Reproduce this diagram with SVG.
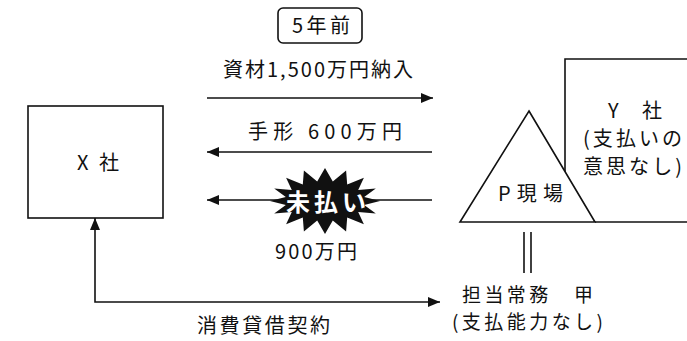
<svg xmlns="http://www.w3.org/2000/svg" width="687" height="341" viewBox="0 0 687 341">
<defs>
<style>
.t{font-family:"Noto Sans CJK JP","Noto Sans",sans-serif;font-size:20px;fill:#111;}
.s{font-size:19px;}
.ln{stroke:#111;stroke-width:1.6;fill:none;}
.box{stroke:#111;stroke-width:1.6;fill:#fff;}
</style>
<marker id="ah" viewBox="0 0 12 10" refX="12" refY="5" markerWidth="12" markerHeight="10" markerUnits="userSpaceOnUse" orient="auto-start-reverse">
<path d="M0,0 L12,5 L0,10 Z" fill="#111"/>
</marker>
</defs>
<rect width="687" height="341" fill="#fff"/>

<g id="title">
<rect x="278" y="8" width="84" height="35" rx="5" class="box"/>
<text class="t" x="292" y="33" textLength="58" lengthAdjust="spacing">5年前</text>
</g>

<g id="connectors">
<line class="ln" x1="207" y1="98" x2="433" y2="98" marker-end="url(#ah)"/>
<line class="ln" x1="432" y1="152" x2="207" y2="152" marker-end="url(#ah)"/>
<line class="ln" x1="432" y1="200" x2="207" y2="200" marker-end="url(#ah)"/>
<path class="ln" d="M95,218 L95,302 L440,302" marker-start="url(#ah)" marker-end="url(#ah)"/>
<line class="ln" x1="524" y1="232" x2="524" y2="273" stroke-width="1.2"/>
<line class="ln" x1="531" y1="232" x2="531" y2="273" stroke-width="1.2"/>
</g>

<g id="labels">
<text class="t" x="223" y="77" textLength="190" lengthAdjust="spacing">資材1,500万円納入</text>
<text class="t" x="248" y="139" textLength="154" lengthAdjust="spacing">手形 600万円</text>
<text class="t" x="275" y="259" textLength="82" lengthAdjust="spacing">900万円</text>
<text class="t" x="197" y="333" textLength="133" lengthAdjust="spacing">消費貸借契約</text>
</g>

<g id="unpaid">
<polygon fill="#111" points="380,201 364.2,204.9 375.8,213.6 358.2,212.1 363.9,224.3 347.2,217.6 346.1,231.5 332.8,220.6 325,234 317.2,220.6 303.9,231.5 302.8,217.6 286.1,224.3 291.8,212.1 274.2,213.6 285.8,204.9 270,201 285.8,197.1 274.2,188.4 291.8,189.9 286.1,177.7 302.8,184.4 303.9,170.5 317.2,181.4 325,168 332.8,181.4 346.1,170.5 347.2,184.4 363.9,177.7 358.2,189.9 375.8,188.4 364.2,197.1"/>
<text x="286" y="211" textLength="80" lengthAdjust="spacing" style="font-family:'Noto Sans CJK JP','Noto Sans',sans-serif;font-size:24px;font-weight:bold;fill:#fff;">未払い</text>
</g>

<g id="x-company">
<rect x="28" y="106" width="135" height="112" class="box"/>
<text class="t" x="77" y="170" textLength="42" lengthAdjust="spacing">X社</text>
</g>

<g id="y-company">
<path class="ln" d="M565,222 L565,59 L690,59" />
<path class="ln" d="M595,222 L690,222"/>
<text class="t" x="608" y="118" textLength="54" lengthAdjust="spacing">Y社</text>
<text class="t" x="583" y="146" textLength="99" lengthAdjust="spacing">(支払いの</text>
<text class="t" x="583" y="174" textLength="99" lengthAdjust="spacing">意思なし)</text>
</g>

<g id="p-site">
<polygon class="box" points="529,111 595,222 460,222"/>
<text class="t" x="498" y="201" textLength="65" lengthAdjust="spacing">P現場</text>
</g>

<g id="director">
<text class="t s" x="462" y="302" textLength="131" lengthAdjust="spacing">担当常務　甲</text>
<text class="t s" x="452" y="329" textLength="151" lengthAdjust="spacing">(支払能力なし)</text>
</g>
</svg>
